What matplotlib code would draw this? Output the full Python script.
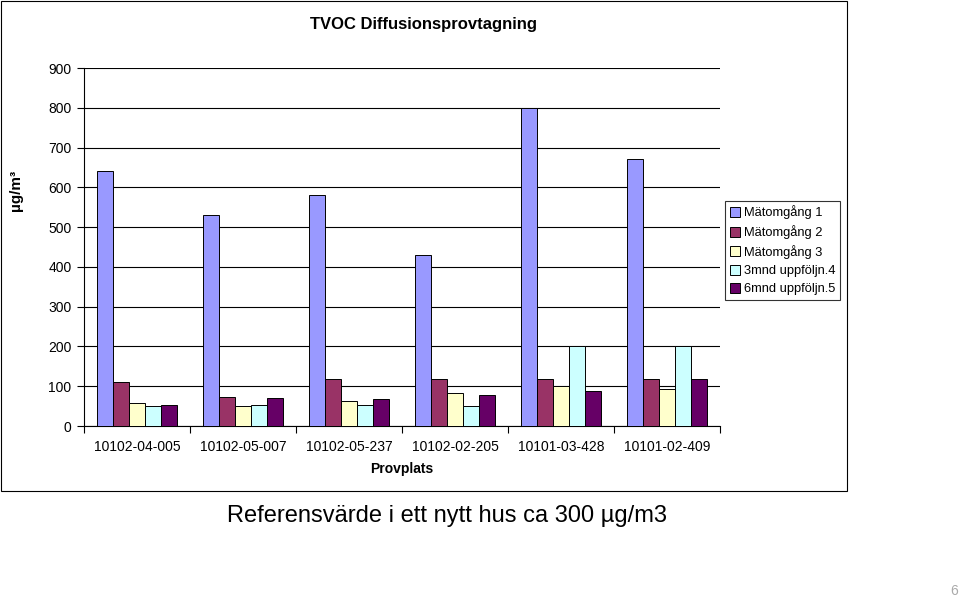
import numpy as np
import matplotlib
matplotlib.use('Agg')
import matplotlib.pyplot as plt
from matplotlib.patches import Rectangle

plt.rcParams['font.family'] = ['Liberation Sans', 'DejaVu Sans']

# Provplatser och mätvärden (µg/m3)
platser = ['10102-04-005', '10102-05-007', '10102-05-237',
           '10102-02-205', '10101-03-428', '10101-02-409']
serier = ['Mätomgång 1', 'Mätomgång 2', 'Mätomgång 3',
          '3mnd uppföljn.4', '6mnd uppföljn.5']
matomgang1 = [640, 530, 580, 430, 800, 670]
matomgang2 = [110, 74, 118, 118, 118, 118]
matomgang3 = [58, 50, 62, 83, 100, 92]
uppf3mnd = [50, 53, 53, 50, 200, 200]
uppf6mnd = [53, 70, 67, 77, 88, 118]
yticks = [0, 100, 200, 300, 400, 500, 600, 700, 800, 900]

farger = ['#9999FF', '#993366', '#FFFFCC', '#CCFFFF', '#660066']
varden = [matomgang1, matomgang2, matomgang3, uppf3mnd, uppf6mnd]

fig = plt.figure(figsize=(9.6, 5.99), dpi=100)
ax = fig.add_axes([84/960, 1-426/599, 636/960, 358/599])

x = np.arange(len(platser))
w = 0.151
for i, (namn, v, c) in enumerate(zip(serier, varden, farger)):
    ax.bar(x + (i - 2) * w, v, w, color=c, edgecolor='black',
           linewidth=0.7, label=namn, zorder=3)

ax.set_xlim(-0.5, len(platser) - 0.5)
ax.set_ylim(0, 900)
ax.set_yticks(yticks)
ax.tick_params(axis='y', labelsize=10, length=5, width=0.8, pad=4)
ax.yaxis.grid(True, color='black', linewidth=0.8, zorder=0)
ax.set_xticks(x)
ax.set_xticklabels(platser, fontsize=10)
ax.set_xticks(np.arange(len(platser) + 1) - 0.5, minor=True)
ax.tick_params(axis='x', which='major', length=0, pad=10)
ax.tick_params(axis='x', which='minor', length=5, width=0.8)
for s in ['top', 'right']:
    ax.spines[s].set_visible(False)
ax.spines['left'].set_linewidth(0.8)
ax.spines['bottom'].set_linewidth(0.8)

fig.text(424/960, 1-25/599, 'TVOC Diffusionsprovtagning', ha='center',
         va='center', fontsize=12, fontweight='bold')
fig.text(16/960, 1-190/599, 'µg/m³', rotation=90, ha='center',
         va='center', fontsize=11, fontweight='bold')
fig.text(402/960, 1-469/599, 'Provplats', ha='center', va='center',
         fontsize=10, fontweight='bold')
fig.text(447/960, 1-516/599, 'Referensvärde i ett nytt hus ca 300 µg/m3',
         ha='center', va='center', fontsize=17)
fig.text(954/960, 1-591/599, '6', ha='center', va='center',
         fontsize=10, color='#AAAAAA')

leg = ax.legend(loc='upper left', bbox_to_anchor=(725/960, 1-201/599),
                bbox_transform=fig.transFigure, borderaxespad=0,
                fontsize=9.3, frameon=True, fancybox=False,
                handlelength=0.8, handleheight=0.8, handletextpad=0.35,
                labelspacing=0.45, borderpad=0.35)
leg.get_frame().set_edgecolor('black')
leg.get_frame().set_linewidth(0.8)

fig.patches.append(Rectangle((1/960, 1-491/599), 846/960, 490/599,
                             transform=fig.transFigure, fill=False,
                             edgecolor='black', linewidth=0.8))

fig.savefig('out.png', dpi=100)
